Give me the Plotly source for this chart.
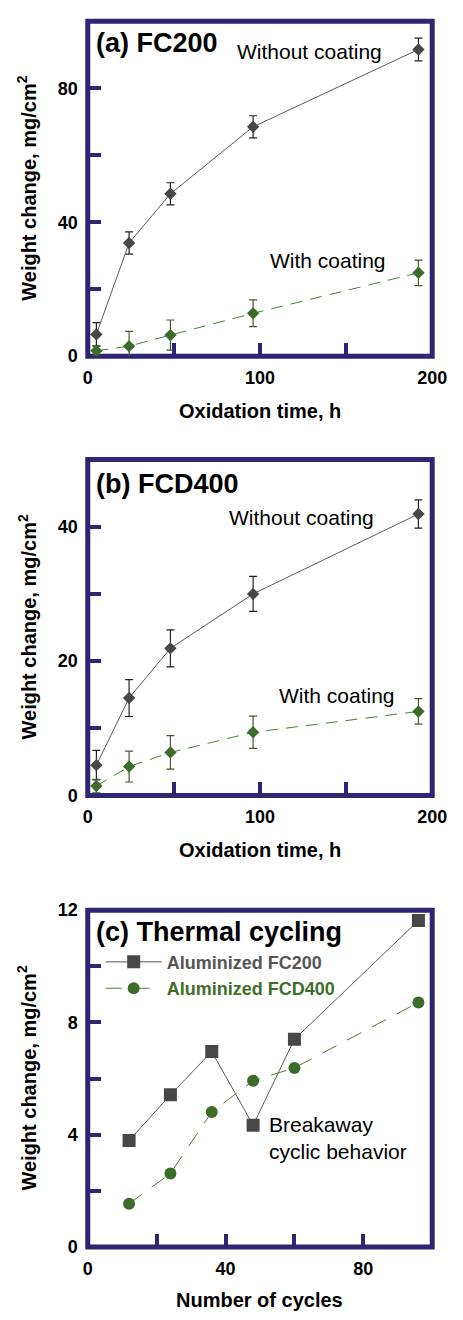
import plotly.graph_objects as go

# ---------------- data ----------------
time_h = [5, 24, 48, 96, 192]

a_without = [6.5, 33.8, 48.5, 68.5, 91.6]
a_without_err = [3.5, 3.3, 3.3, 3.3, 3.4]
a_with = [1.6, 3.0, 6.3, 12.8, 24.9]
a_with_err = [1.5, 4.4, 4.5, 4.0, 3.8]

b_without = [4.5, 14.5, 21.9, 30.0, 41.9]
b_without_err = [2.2, 2.75, 2.75, 2.6, 2.1]
b_with = [1.4, 4.3, 6.4, 9.4, 12.5]
b_with_err = [1.0, 2.3, 2.5, 2.4, 1.9]

cycles = [12, 24, 36, 48, 60, 96]
c_fc200 = [3.79, 5.42, 6.96, 4.34, 7.40, 11.63]
c_fcd400 = [1.54, 2.62, 4.81, 5.92, 6.38, 8.71]

# ---------------- style ----------------
W, H = 463, 1320
FONT = "Liberation Sans, Arial, Helvetica, sans-serif"
NAVY = "#2e2673"
GRAY = "#474747"
GRAY_LINE = "#5a5a5a"
GREEN = "#3b6c2a"
GREEN_LINE = "#4a7d37"


def px_x(p):
    return p / W


def px_y(p):
    return 1 - p / H


X0, X1 = 86.5, 446.5
panels = {
    "a": (11.5, 351.5),
    "b": (456.5, 797.5),
    "c": (914.0, 1256.0),
}

fig = go.Figure()

# Panel (a)
fig.add_trace(go.Scatter(
    x=time_h, y=a_without, xaxis="x", yaxis="y", mode="lines+markers",
    line=dict(color=GRAY_LINE, width=1),
    marker=dict(symbol="diamond", size=9.5, color=GRAY),
    error_y=dict(type="data", array=a_without_err, color="#222", thickness=1.2, width=4),
    showlegend=False))
fig.add_trace(go.Scatter(
    x=time_h, y=a_with, xaxis="x", yaxis="y", mode="lines+markers",
    line=dict(color=GREEN_LINE, width=1, dash="12px,8px"),
    marker=dict(symbol="diamond", size=9.5, color=GREEN),
    error_y=dict(type="data", array=a_with_err, color="#43592f", thickness=1.2, width=4),
    showlegend=False))

# Panel (b)
fig.add_trace(go.Scatter(
    x=time_h, y=b_without, xaxis="x2", yaxis="y2", mode="lines+markers",
    line=dict(color=GRAY_LINE, width=1),
    marker=dict(symbol="diamond", size=9.5, color=GRAY),
    error_y=dict(type="data", array=b_without_err, color="#222", thickness=1.2, width=4),
    showlegend=False))
fig.add_trace(go.Scatter(
    x=time_h, y=b_with, xaxis="x2", yaxis="y2", mode="lines+markers",
    line=dict(color=GREEN_LINE, width=1, dash="12px,8px"),
    marker=dict(symbol="diamond", size=9.5, color=GREEN),
    error_y=dict(type="data", array=b_with_err, color="#43592f", thickness=1.2, width=4),
    showlegend=False))

# Panel (c)
fig.add_trace(go.Scatter(
    x=cycles, y=c_fc200, xaxis="x3", yaxis="y3", mode="lines+markers",
    name="<span style='color:#555555'>Aluminized FC200</span>",
    line=dict(color=GRAY_LINE, width=1),
    marker=dict(symbol="square", size=13, color=GRAY),
    showlegend=True))
fig.add_trace(go.Scatter(
    x=cycles, y=c_fcd400, xaxis="x3", yaxis="y3", mode="lines+markers",
    name="<span style='color:#3f6f2a'>Aluminized FCD400</span>",
    line=dict(color=GREEN_LINE, width=1, dash="16px,12px"),
    marker=dict(symbol="circle", size=12, color=GREEN),
    showlegend=True))

tickfont = dict(family=FONT, size=18, color="black", weight="bold")


def xaxis_def(anchor, rng, dtick, minor_dtick):
    return dict(
        domain=[px_x(X0), px_x(X1)], anchor=anchor, range=rng,
        showgrid=False, zeroline=False, showline=False,
        ticks="inside", ticklen=13, tickwidth=4, tickcolor=NAVY,
        tick0=0, dtick=dtick, tickfont=tickfont, ticklabelstandoff=9,
        minor=dict(ticks="inside", ticklen=13, tickwidth=4, tickcolor=NAVY,
                   tick0=0, dtick=minor_dtick, showgrid=False),
        fixedrange=True)


def yaxis_def(anchor, key, rng, dtick, minor_dtick):
    t, b = panels[key]
    return dict(
        domain=[px_y(b), px_y(t)], anchor=anchor, range=rng,
        showgrid=False, zeroline=False, showline=False,
        ticks="inside", ticklen=13, tickwidth=4, tickcolor=NAVY,
        tick0=0, dtick=dtick, tickfont=tickfont, ticklabelstandoff=9,
        minor=dict(ticks="inside", ticklen=13, tickwidth=4, tickcolor=NAVY,
                   tick0=0, dtick=minor_dtick, showgrid=False),
        fixedrange=True)


fig.update_layout(
    width=W, height=H,
    margin=dict(l=0, r=0, t=0, b=0),
    paper_bgcolor="white", plot_bgcolor="white",
    font=dict(family=FONT, color="black"),
    hovermode=False,
    xaxis=xaxis_def("y", [0, 200], 100, 50),
    yaxis=yaxis_def("x", "a", [0, 100], 40, 20),
    xaxis2=xaxis_def("y2", [0, 200], 100, 50),
    yaxis2=yaxis_def("x2", "b", [0, 50], 20, 10),
    xaxis3=xaxis_def("y3", [0, 100], 40, 20),
    yaxis3=yaxis_def("x3", "c", [0, 12], 4, 2),
    legend=dict(
        x=px_x(100), y=px_y(948), xanchor="left", yanchor="top",
        bgcolor="rgba(0,0,0,0)", borderwidth=0,
        font=dict(family=FONT, size=18, weight="bold"),
        itemwidth=56, tracegroupgap=0,
    ),
)

# frames
for xr, yr in [("x", "y"), ("x2", "y2"), ("x3", "y3")]:
    fig.add_shape(type="rect", xref=f"{xr} domain", yref=f"{yr} domain",
                  x0=0, x1=1, y0=0, y1=1, layer="below",
                  line=dict(color=NAVY, width=5), fillcolor="rgba(0,0,0,0)")

annos = []


def add_text(text, x, y, size, bold=False, xanchor="left", angle=0, align="left"):
    annos.append(dict(
        text=text, x=px_x(x), y=px_y(y), xref="paper", yref="paper",
        xanchor=xanchor, yanchor="middle", showarrow=False, textangle=angle,
        align=align,
        font=dict(family=FONT, size=size, color="black",
                  weight="bold" if bold else "normal")))


# panel labels
add_text("(a) FC200", 93, 34, 27, bold=True)
add_text("Without coating", 240, 42, 21)
add_text("With coating", 275, 254, 21)

add_text("(b) FCD400", 93, 481.5, 27, bold=True)
add_text("Without coating", 232, 515, 21)
add_text("With coating", 284, 696.5, 21)

add_text("(c) Thermal cycling", 93, 936, 27, bold=True)
add_text("Breakaway<br>cyclic behavior", 274, 1145.5, 21)

# axis titles
for yc in [181.5, 627, 1085]:
    add_text("Weight change, mg/cm<sup>2</sup>", 23, yc, 20, bold=True,
             xanchor="center", angle=-90)
add_text("Oxidation time, h", 266.5, 407, 20, bold=True, xanchor="center")
add_text("Oxidation time, h", 266.5, 853, 20, bold=True, xanchor="center")
add_text("Number of cycles", 266.5, 1310, 20, bold=True, xanchor="center")

fig.update_layout(annotations=annos)

fig.write_html("out.html",
               config={"displayModeBar": False, "staticPlot": True},
               post_script="document.body.style.margin='0';document.body.style.overflow='hidden';")
